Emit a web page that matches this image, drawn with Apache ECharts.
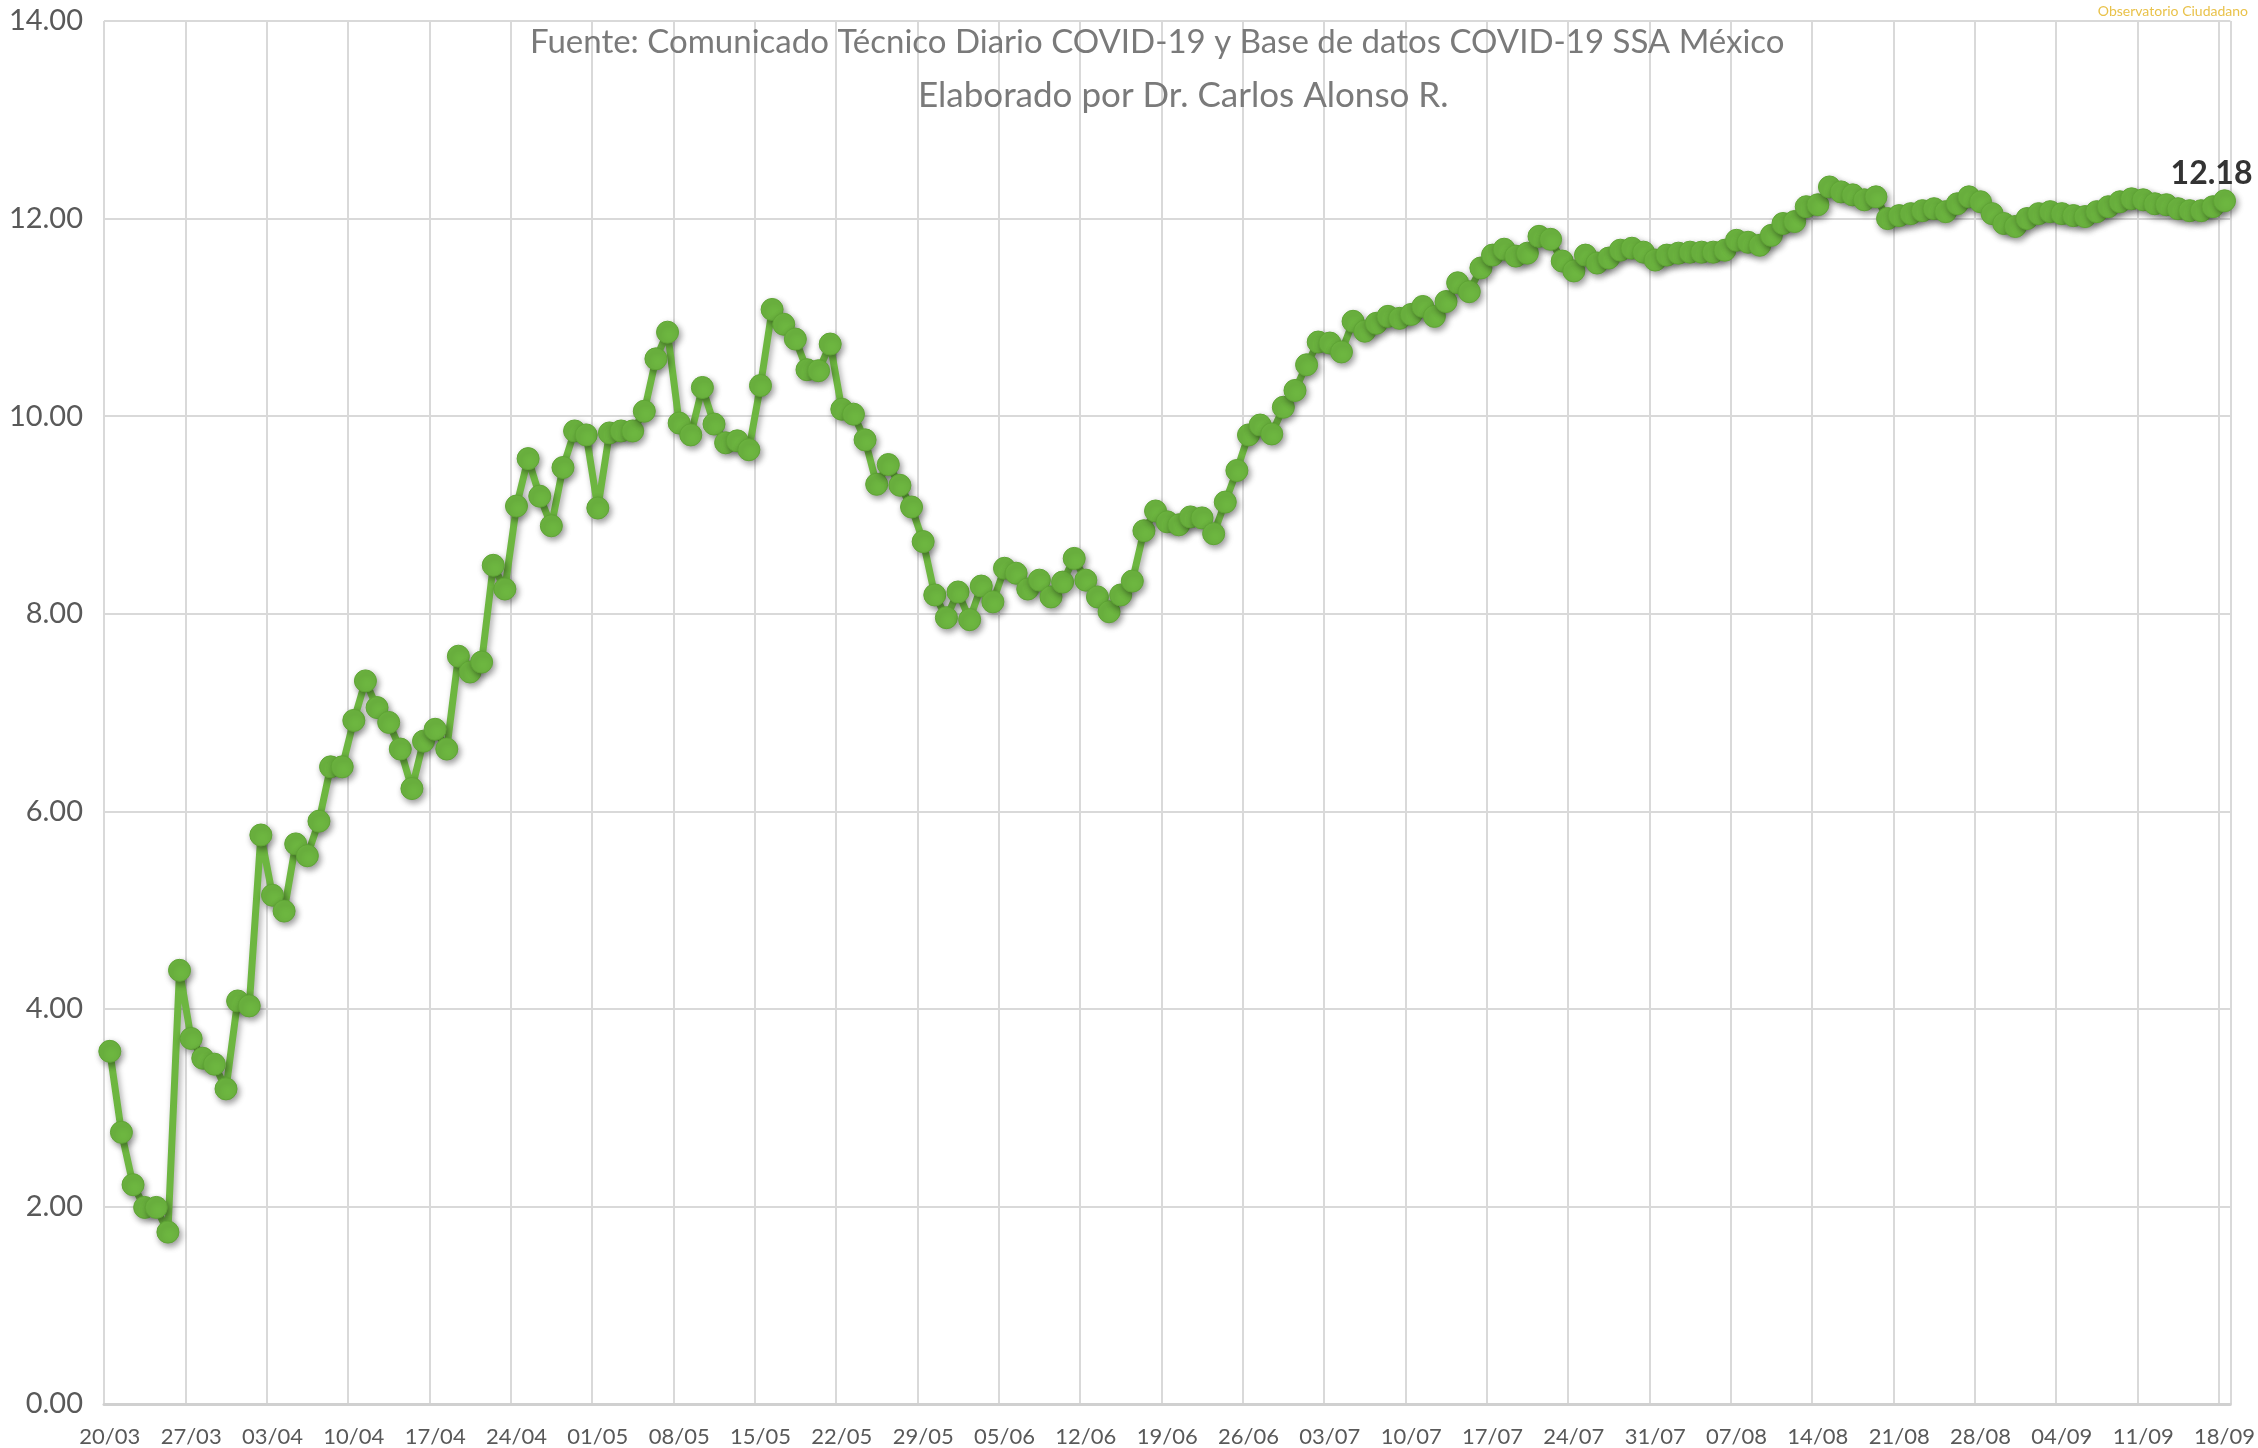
<!DOCTYPE html>
<html>
<head>
<meta charset="utf-8">
<script src="https://cdn.jsdelivr.net/npm/echarts@6/dist/echarts.min.js"></script>
<style>
  html, body { margin: 0; padding: 0; background: #fff; }
  #main { width: 2258px; height: 1448px; }
</style>
</head>
<body>
<div id="main"></div>
<script>
// daily dates 20/03 .. 18/09 (dd/mm)
const monthDays = { 3: 31, 4: 30, 5: 31, 6: 30, 7: 31, 8: 31, 9: 30 };
const dates = [];
let d = 20, m = 3;
while (!(m === 9 && d > 18)) {
  dates.push(String(d).padStart(2, "0") + "/" + String(m).padStart(2, "0"));
  d++;
  if (d > monthDays[m]) { d = 1; m++; }
}

// valores
const values = [
  3.57, 2.75, 2.22, 1.99, 1.99, 1.74, 4.39, 3.70, 3.50, 3.44,
  3.19, 4.08, 4.03, 5.76, 5.15, 4.99, 5.67, 5.55, 5.90, 6.45,
  6.45, 6.92, 7.32, 7.05, 6.90, 6.63, 6.23, 6.71, 6.83, 6.63,
  7.57, 7.41, 7.51, 8.49, 8.25, 9.09, 9.57, 9.19, 8.89, 9.48,
  9.85, 9.81, 9.07, 9.83, 9.85, 9.85, 10.05, 10.58, 10.85, 9.93,
  9.81, 10.29, 9.92, 9.73, 9.75, 9.66, 10.31, 11.08, 10.93, 10.78,
  10.47, 10.46, 10.73, 10.07, 10.02, 9.76, 9.31, 9.51, 9.30, 9.08,
  8.73, 8.19, 7.96, 8.22, 7.94, 8.28, 8.12, 8.46, 8.41, 8.25,
  8.34, 8.17, 8.32, 8.56, 8.34, 8.17, 8.02, 8.19, 8.33, 8.84,
  9.04, 8.93, 8.90, 8.98, 8.97, 8.81, 9.13, 9.45, 9.81, 9.91,
  9.82, 10.09, 10.26, 10.52, 10.75, 10.74, 10.65, 10.96, 10.86, 10.94,
  11.01, 10.99, 11.03, 11.11, 11.01, 11.16, 11.35, 11.26, 11.50, 11.63,
  11.69, 11.62, 11.65, 11.82, 11.79, 11.57, 11.47, 11.63, 11.55, 11.60,
  11.68, 11.70, 11.66, 11.58, 11.63, 11.65, 11.66, 11.66, 11.66, 11.68,
  11.78, 11.76, 11.73, 11.83, 11.95, 11.97, 12.12, 12.14, 12.32, 12.27,
  12.24, 12.19, 12.22, 12.00, 12.03, 12.05, 12.08, 12.10, 12.07, 12.15,
  12.22, 12.17, 12.05, 11.95, 11.92, 12.00, 12.05, 12.07, 12.05, 12.03,
  12.02, 12.07, 12.12, 12.17, 12.20, 12.19, 12.15, 12.14, 12.10, 12.08,
  12.08, 12.12, 12.18
];

const subtitle1 = "Fuente: Comunicado Técnico Diario COVID-19 y Base de datos COVID-19 SSA México";
const subtitle2 = "Elaborado por Dr. Carlos Alonso R.";

const green = "#6db640";
const gridGray = "#d9d9d9";
const lastIdx = values.length - 1;

const chart = echarts.init(document.getElementById("main"));
chart.setOption({
  animation: false,
  backgroundColor: "#fff",
  grid: { left: 104, right: 22, top: 21, bottom: 43 },
  graphic: [
    {
      type: "text", left: 530, top: 26, z: 10,
      style: { text: subtitle1, font: "33px Lato", fill: "#7a7a7a" }
    },
    {
      type: "text", left: 918, top: 78, z: 10,
      style: { text: subtitle2, font: "35px Lato", fill: "#7a7a7a" }
    },
    {
      type: "text", right: 10, top: 4, z: 10,
      style: { text: "Observatorio Ciudadano", font: "14px Lato", fill: "#e9c24a" }
    }
  ],
  xAxis: {
    type: "category",
    data: dates,
    boundaryGap: true,
    axisLine: { lineStyle: { color: "#d0d0d0", width: 3 } },
    axisTick: { show: false },
    axisLabel: {
      interval: (i) => i % 7 === 0,
      margin: 22,
      color: "#595959",
      fontFamily: "Lato",
      fontSize: 22
    },
    splitLine: {
      show: true,
      interval: (i) => i % 7 === 0,
      lineStyle: { color: gridGray, width: 2 }
    }
  },
  yAxis: {
    type: "value",
    min: 0,
    max: 14,
    interval: 2,
    axisLine: { show: false },
    axisTick: { show: false },
    axisLabel: {
      margin: 21,
      color: "#595959",
      fontFamily: "Lato",
      fontSize: 29,
      formatter: (v) => v.toFixed(2)
    },
    splitLine: { lineStyle: { color: gridGray, width: 2 } }
  },
  series: [
    {
      type: "line",
      data: values.map((v, i) => i === lastIdx ? {
        value: v,
        label: {
          show: true, position: "top", offset: [-13, 5],
          formatter: (p) => p.value.toFixed(2),
          fontFamily: "Lato", fontWeight: "bold", fontSize: 32, color: "#333"
        }
      } : v),
      symbol: "circle",
      symbolSize: 22,
      showAllSymbol: true,
      lineStyle: {
        color: green, width: 7,
        shadowColor: "rgba(0,0,0,0.35)", shadowBlur: 6, shadowOffsetX: 2, shadowOffsetY: 3
      },
      itemStyle: {
        color: green, borderColor: "#5fa535", borderWidth: 1,
        shadowColor: "rgba(0,0,0,0.4)", shadowBlur: 6, shadowOffsetX: 2, shadowOffsetY: 3
      }
    }
  ]
});
</script>
</body>
</html>
